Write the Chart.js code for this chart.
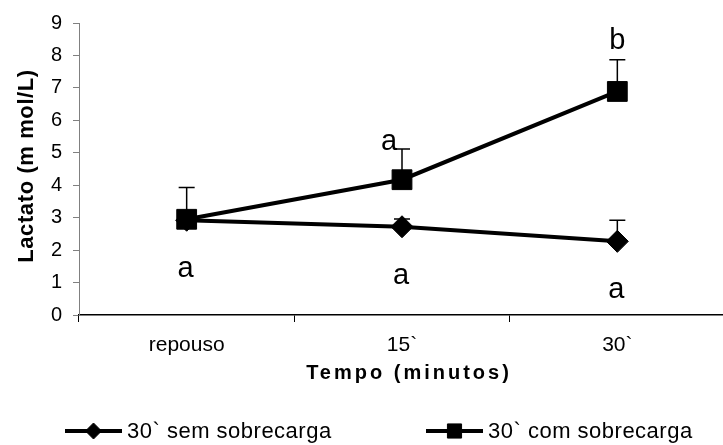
<!DOCTYPE html>
<html>
<head>
<meta charset="utf-8">
<script src="https://cdn.jsdelivr.net/npm/chart.js@4.4.1/dist/chart.umd.min.js"></script>
<style>
  html, body { margin: 0; padding: 0; background: #fff; overflow: hidden; }
  #wrap { width: 740px; height: 445px; }
</style>
</head>
<body>
<div id="wrap"><canvas id="c" width="740" height="445"></canvas></div>
<script>
// ---- data ----
const categories = ['repouso', '15`', '30`'];
const semValues = [2.92, 2.72, 2.27];
const semErrors = [0.18, 0.24, 0.65];
const comValues = [2.95, 4.17, 6.89];
const comErrors = [0.98, 0.95, 0.98];
const semLetters = ['a', 'a', 'a'];
const comLetters = ['', 'a', 'b'];
const yTicks = [0, 1, 2, 3, 4, 5, 6, 7, 8, 9];
const seriesNames = ['30` sem sobrecarga', '30` com sobrecarga'];
const xTitle = 'Tempo (minutos)';
const yTitle = 'Lactato (m mol/L)';

const FONT = "'Liberation Sans', Arial, sans-serif";

const extras = {
  id: 'extras',
  beforeDatasetsDraw(chart) {
    const ctx = chart.ctx, xs = chart.scales.x, ys = chart.scales.y;
    ctx.save();
    ctx.strokeStyle = '#000';
    ctx.lineWidth = 1.5;
    [[semValues, semErrors], [comValues, comErrors]].forEach(([vals, errs]) => {
      vals.forEach((v, i) => {
        const px = xs.getPixelForValue(i);
        const p0 = ys.getPixelForValue(v);
        const p1 = ys.getPixelForValue(v + errs[i]);
        ctx.beginPath();
        ctx.moveTo(px, p0); ctx.lineTo(px, p1);
        ctx.moveTo(px - 8, p1); ctx.lineTo(px + 8, p1);
        ctx.stroke();
      });
    });
    ctx.restore();
  },
  afterDraw(chart) {
    const ctx = chart.ctx, xs = chart.scales.x, ys = chart.scales.y;
    ctx.save();
    ctx.fillStyle = '#000';
    // significance letters
    ctx.font = '29px ' + FONT;
    ctx.textAlign = 'center';
    ctx.textBaseline = 'alphabetic';
    semLetters.forEach((t, i) => {
      if (!t) return;
      const px = xs.getPixelForValue(i);
      const py = ys.getPixelForValue(semValues[i]);
      ctx.fillText(t, px - 1, py + 57);
    });
    const comNudge = [[0, -6], [-13, 1], [0, -11]];
    comLetters.forEach((t, i) => {
      if (!t) return;
      const px = xs.getPixelForValue(i);
      const pt = ys.getPixelForValue(comValues[i] + comErrors[i]);
      ctx.fillText(t, px + comNudge[i][0], pt + comNudge[i][1]);
    });
    // x title
    ctx.font = 'bold 20px ' + FONT;
    ctx.letterSpacing = '3px';
    ctx.fillText(xTitle, 409, 379);
    // y title
    ctx.save();
    ctx.font = 'bold 22px ' + FONT;
    ctx.letterSpacing = '0.6px';
    ctx.translate(33, 166);
    ctx.rotate(-Math.PI / 2);
    ctx.fillText(yTitle, 0, 0);
    ctx.restore();
    // legend
    ctx.letterSpacing = '0.5px';
    ctx.font = '22px ' + FONT;
    ctx.textAlign = 'left';
    const ly = 431;
    const items = [[65, 'rectRot', 8], [426, 'rect', 10]];
    items.forEach(([lx, style, r], k) => {
      ctx.strokeStyle = '#000';
      ctx.lineWidth = 4;
      ctx.beginPath(); ctx.moveTo(lx, ly); ctx.lineTo(lx + 57, ly); ctx.stroke();
      ctx.lineWidth = 1;
      Chart.helpers.drawPoint(ctx, { pointStyle: style, radius: r, borderWidth: 1, rotation: 0 }, lx + 28.5, ly);
      ctx.fillText(seriesNames[k], lx + 62, 438);
    });
    ctx.restore();
  }
};

new Chart(document.getElementById('c'), {
  type: 'line',
  data: {
    labels: categories,
    datasets: [
      {
        label: seriesNames[0], data: semValues, order: 1,
        borderColor: '#000', backgroundColor: '#000', borderWidth: 4,
        pointStyle: 'rectRot', pointRadius: 11, pointBorderWidth: 1,
        pointBackgroundColor: '#000', pointBorderColor: '#000', tension: 0
      },
      {
        label: seriesNames[1], data: comValues, order: 0,
        borderColor: '#000', backgroundColor: '#000', borderWidth: 4,
        pointStyle: 'rect', pointRadius: 14, pointBorderWidth: 1,
        pointBackgroundColor: '#000', pointBorderColor: '#000', tension: 0
      }
    ]
  },
  options: {
    responsive: false,
    animation: false,
    events: [],
    layout: { padding: { left: 0, right: 9, top: 20, bottom: 0 } },
    plugins: { legend: { display: false }, tooltip: { enabled: false } },
    scales: {
      x: {
        type: 'category', offset: true,
        grid: { offset: true, drawOnChartArea: false, drawTicks: true, tickLength: 7, color: '#000', lineWidth: 1 },
        border: { display: true, color: '#000', width: 1.5 },
        ticks: { color: '#000', font: { family: FONT, size: 21 }, padding: 11, maxRotation: 0, autoSkip: false },
        afterFit(s) { s.height = 130; }
      },
      y: {
        min: yTicks[0], max: yTicks[yTicks.length - 1],
        afterBuildTicks(s) { s.ticks = yTicks.map(v => ({ value: v })); },
        grid: { drawOnChartArea: false, drawTicks: true, tickLength: 6, color: '#808080', lineWidth: 1 },
        border: { display: true, color: '#808080', width: 1 },
        ticks: { color: '#000', font: { family: FONT, size: 20 }, padding: 11 },
        afterFit(s) { s.width = 79; }
      }
    }
  },
  plugins: [extras]
});
</script>
</body>
</html>
